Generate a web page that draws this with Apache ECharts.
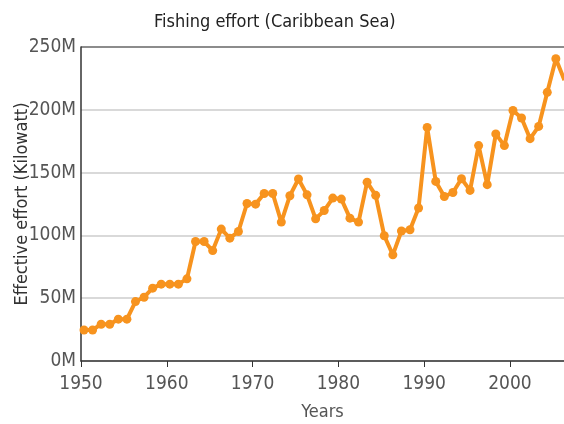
<!DOCTYPE html>
<html>
<head>
<meta charset="utf-8">
<script src="https://cdn.jsdelivr.net/npm/echarts@6/dist/echarts.min.js"></script>
<style>
  html, body { margin: 0; padding: 0; background: #fff; }
  #main { width: 564px; height: 424px; }
</style>
</head>
<body>
<div id="main"></div>
<script>
// years 1950..2006
var years = [];
for (var y = 1950; y <= 2006; y++) years.push(y);

// effective effort, millions of kW
var effort = [
  24.7, 24.7, 29.3, 29.3, 33.3, 33.3, 47.3, 50.8, 58.0, 61.2,
  61.2, 61.2, 65.4, 95.1, 95.1, 87.9, 105.0, 97.8, 103.1, 125.4,
  124.9, 133.4, 133.4, 110.6, 131.6, 144.9, 132.3, 113.2, 119.8, 129.7,
  128.9, 113.7, 110.6, 142.4, 131.9, 99.7, 84.5, 103.5, 104.5, 121.8,
  186.0, 143.0, 131.0, 134.2, 145.1, 135.8, 171.5, 140.4, 180.8, 171.5,
  199.4, 193.5, 177.0, 186.8, 213.9, 240.6, 223.6
];

// samples are plotted a little into each year
var yearOffset = 0.35;

var fontFam = '"DejaVu Sans Condensed", "Liberation Sans Narrow", sans-serif';

var points = years.map(function (yr, i) {
    return [yr + yearOffset, effort[i]];
});

var chart = echarts.init(document.getElementById('main'));

var option = {
    animation: false,
    title: {
        text: 'Fishing effort (Caribbean Sea)',
        left: 149,
        top: 8,
        textStyle: { fontFamily: fontFam, fontSize: 18, fontWeight: 'normal', color: '#222' }
    },
    grid: { left: 81, right: 0, top: 47, bottom: 63, outerBoundsMode: 'none' },
    xAxis: {
        type: 'value',
        min: 1950,
        max: 2006.3,
        interval: 10,
        name: 'Years',
        nameLocation: 'middle',
        nameGap: 42,
        nameMoveOverlap: false,
        nameTextStyle: { fontFamily: fontFam, fontSize: 18, color: '#555' },
        axisLine: { lineStyle: { color: '#333', width: 1.5 } },
        axisTick: { show: true, length: 6, lineStyle: { color: '#333' } },
        axisLabel: { fontFamily: fontFam, fontSize: 19, color: '#555', margin: 14,
            showMaxLabel: false,
            formatter: function (v) { return String(v); } },
        splitLine: { show: false }
    },
    yAxis: {
        type: 'value',
        min: 0,
        max: 250,
        interval: 50,
        name: 'Effective effort (Kilowatt)',
        nameLocation: 'middle',
        nameGap: 50,
        nameMoveOverlap: false,
        nameTextStyle: { fontFamily: fontFam, fontSize: 18, color: '#333' },
        axisLine: { show: true, lineStyle: { color: '#333', width: 1.5 } },
        axisTick: { show: false },
        axisLabel: { fontFamily: fontFam, fontSize: 19, color: '#555', margin: 5,
            formatter: function (v) { return v + 'M'; } },
        splitLine: { lineStyle: { color: ['#ccc', '#ccc', '#ccc', '#ccc', '#ccc', '#666'], width: 1.5 } }
    },
    series: [{
        type: 'line',
        data: points,
        symbol: 'circle',
        symbolSize: 9,
        showSymbol: true,
        lineStyle: { color: '#f7931e', width: 4 },
        itemStyle: { color: '#f7931e' }
    }]
};
chart.setOption(option);
</script>
</body>
</html>
